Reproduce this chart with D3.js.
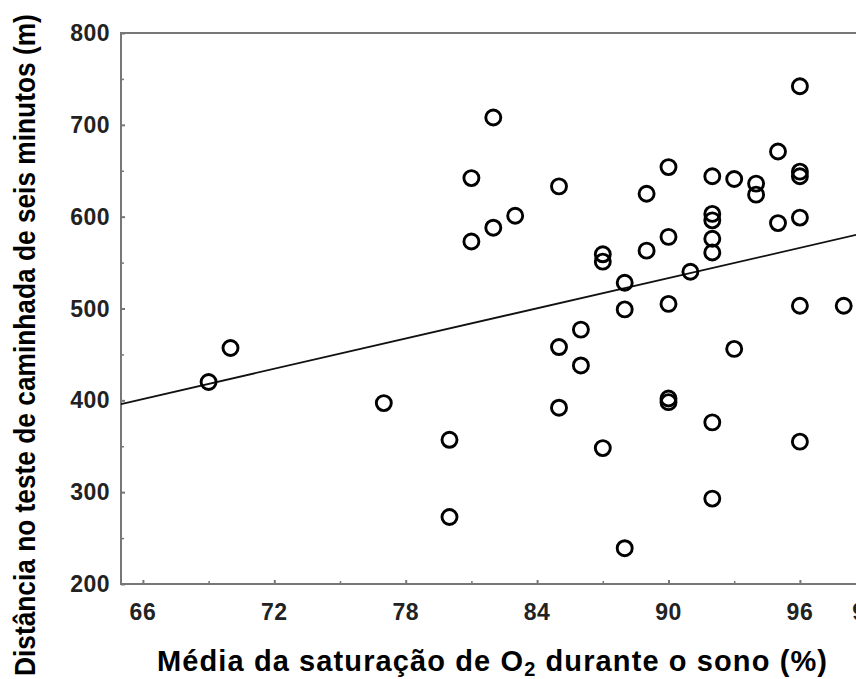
<!DOCTYPE html>
<html>
<head>
<meta charset="utf-8">
<script src="https://cdn.jsdelivr.net/npm/d3@7"></script>
<style>
  html, body { margin: 0; padding: 0; background: #fff; }
  svg { display: block; font-family: "Liberation Sans", Arial, sans-serif; }
</style>
</head>
<body>
<svg id="chart" width="856" height="679"></svg>
<script>
// Data
const saturation = [69, 70, 77, 96, 82, 81, 85, 90, 95, 92, 93, 94, 94, 96, 96, 89, 81, 82, 83, 92, 92, 92, 92, 95, 96, 87, 87, 89, 90, 91, 88, 88, 90, 96, 98, 86, 85, 86, 93, 85, 90, 90, 92, 80, 87, 96, 92, 80, 88];
const distance   = [420, 457, 397, 742, 708, 642, 633, 654, 671, 644, 641, 636, 624, 649, 644, 625, 573, 588, 601, 603, 596, 576, 561, 593, 599, 559, 551, 563, 578, 540, 528, 499, 505, 503, 503, 477, 458, 438, 456, 392, 402, 398, 376, 357, 348, 355, 293, 273, 239];
const fitX = [65, 100];
const fitY = [396, 588];
const xTicks = [66, 72, 78, 84, 90, 96];
const xMinorTicks = [69, 75, 81, 87, 93, 99];
const xCutLabel = [99];
const yTicks = [200, 300, 400, 500, 600, 700, 800];
const yMinorTicks = [250, 350, 450, 550, 650, 750];
const xTitle = ["Média da saturação de O", "2", " durante o sono (%)"];
const yTitle = "Distância no teste de caminhada de seis minutos (m)";

const svg = d3.select("#chart");
const x = d3.scaleLinear().domain([65, 100]).range([121, 887.5]);
const y = d3.scaleLinear().domain([200, 800]).range([584, 33]);
const axisColor = "#777";

// frame (right side is cropped off in the reference)
svg.append("rect")
  .attr("x", x(65)).attr("y", y(800))
  .attr("width", x(100) - x(65)).attr("height", y(200) - y(800))
  .attr("fill", "none").attr("stroke", axisColor).attr("stroke-width", 2);

// y axis ticks (inside)
const yAxis = svg.append("g").attr("transform", `translate(${x(65)},0)`)
  .call(d3.axisRight(y).tickValues(yTicks).tickSize(4).tickFormat(""));
yAxis.select(".domain").remove();
yAxis.selectAll("line").attr("stroke", axisColor).attr("stroke-width", 2);
const yMinor = svg.append("g").attr("transform", `translate(${x(65)},0)`)
  .call(d3.axisRight(y).tickValues(yMinorTicks).tickSize(3).tickFormat(""));
yMinor.select(".domain").remove();
yMinor.selectAll("line").attr("stroke", axisColor).attr("stroke-width", 1.5);

// y tick labels
svg.append("g").selectAll("text").data(yTicks).join("text")
  .attr("x", 110).attr("y", d => y(d) + 8)
  .attr("text-anchor", "end")
  .attr("font-size", 23).attr("font-weight", "bold").attr("fill", "#222")
  .attr("letter-spacing", 0.5)
  .text(d => d);

// x axis ticks (inside)
const xAxis = svg.append("g").attr("transform", `translate(0,${y(200)})`)
  .call(d3.axisTop(x).tickValues(xTicks).tickSize(4).tickFormat(""));
xAxis.select(".domain").remove();
xAxis.selectAll("line").attr("stroke", axisColor).attr("stroke-width", 2);
const xMinor = svg.append("g").attr("transform", `translate(0,${y(200)})`)
  .call(d3.axisTop(x).tickValues(xMinorTicks).tickSize(3).tickFormat(""));
xMinor.select(".domain").remove();
xMinor.selectAll("line").attr("stroke", axisColor).attr("stroke-width", 1.5);

// x tick labels (the last one is cut by the image edge, as in the reference)
svg.append("g").selectAll("text").data(xTicks.concat(xCutLabel)).join("text")
  .attr("x", d => x(d)).attr("y", 620)
  .attr("text-anchor", "middle")
  .attr("font-size", 23).attr("font-weight", "bold").attr("fill", "#222")
  .attr("letter-spacing", 0.5)
  .text(d => d);

// regression line
svg.append("path")
  .datum(fitX.map((v, i) => [v, fitY[i]]))
  .attr("d", d3.line().x(d => x(d[0])).y(d => y(d[1])))
  .attr("fill", "none").attr("stroke", "#111").attr("stroke-width", 1.8);

// points
svg.append("g").selectAll("circle").data(saturation.map((v, i) => [v, distance[i]])).join("circle")
  .attr("cx", d => x(d[0])).attr("cy", d => y(d[1]))
  .attr("r", 7.5).attr("fill", "none").attr("stroke", "#000").attr("stroke-width", 2.9);

// x title
const xt = svg.append("text")
  .attr("x", 157).attr("y", 671)
  .attr("font-size", 29).attr("font-weight", "bold").attr("fill", "#000")
  .attr("textLength", 670).attr("lengthAdjust", "spacing");
xt.append("tspan").text(xTitle[0]);
xt.append("tspan").attr("font-size", 20).attr("dy", 5).text(xTitle[1]);
xt.append("tspan").attr("dy", -5).text(xTitle[2]);

// y title (condensed horizontally to fit, as in the reference)
const yt = svg.append("text")
  .attr("font-size", 29).attr("font-weight", "bold").attr("fill", "#000")
  .text(yTitle);
const natural = yt.node().getComputedTextLength();
const k = 662 / natural;
yt.attr("transform", `translate(35,676) rotate(-90) scale(${k},1)`);
</script>
</body>
</html>
